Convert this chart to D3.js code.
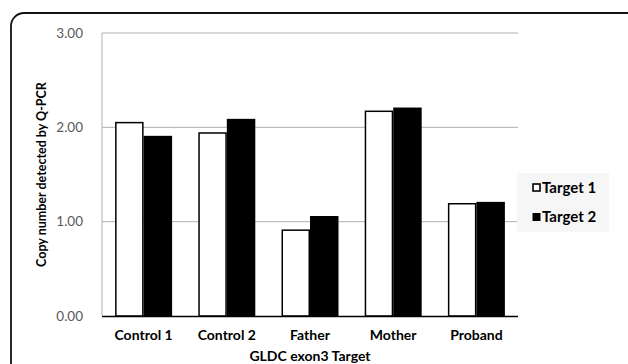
<!DOCTYPE html>
<html><head><meta charset="utf-8">
<script src="https://cdn.jsdelivr.net/npm/d3@7"></script>
<style>body{margin:0;background:#fff}svg{display:block}text{font-family:Lato,"Open Sans",sans-serif}</style>
</head><body>
<script>
const categories = ["Control 1","Control 2","Father","Mother","Proband"];
const seriesNames = ["Target 1","Target 2"];
const target1 = [2.05, 1.94, 0.91, 2.17, 1.19];
const target2 = [1.91, 2.09, 1.06, 2.21, 1.21];
const yTicks = [0, 1, 2, 3];
const xTitle = "GLDC exon3 Target";
const yTitle = "Copy number detected by Q-PCR";

const W = 628, H = 364;
const m = {left:102, right:110, top:33, bottom:48};
const svg = d3.select("body").append("svg").attr("width",W).attr("height",H);

svg.append("rect").attr("x",11).attr("y",13).attr("width",640).attr("height",400)
  .attr("rx",13).attr("fill","none").attr("stroke","#111").attr("stroke-width",1.8);

const x0 = d3.scaleBand().domain(categories).range([m.left, W-m.right]).paddingInner(0.315).paddingOuter(0.1575);
const x1 = d3.scaleBand().domain(seriesNames).range([0, x0.bandwidth()]);
const y = d3.scaleLinear().domain([0,3]).range([H-m.bottom, m.top]);

svg.append("g").selectAll("line").data(yTicks.filter(d=>d>0)).join("line")
  .attr("x1",m.left).attr("x2",W-m.right).attr("y1",d=>y(d)).attr("y2",d=>y(d))
  .attr("stroke","#b0b0b0").attr("stroke-width",1);
svg.append("line").attr("x1",m.left).attr("x2",m.left).attr("y1",y(3)).attr("y2",y(0))
  .attr("stroke","#b0b0b0").attr("stroke-width",1);

svg.append("g").selectAll("text").data(yTicks).join("text")
  .attr("x",83).attr("y",d=>y(d)).attr("dy","0.35em").attr("text-anchor","end")
  .attr("font-size",13.5).attr("fill","#595959").text(d=>d3.format(".2f")(d));

const series = [target1, target2];
const g = svg.append("g");
categories.forEach((c,i)=>{
  seriesNames.forEach((s,j)=>{
    g.append("rect")
      .attr("x", x0(c)+x1(s)+ (j===0?0.75:0))
      .attr("y", y(series[j][i]))
      .attr("width", x1.bandwidth() - (j===0?1.5:0))
      .attr("height", y(0)-y(series[j][i]))
      .attr("fill", j===0?"#fff":"#000")
      .attr("stroke","#000").attr("stroke-width", j===0?1.5:0);
  });
});

svg.append("line").attr("x1",m.left).attr("x2",W-m.right).attr("y1",y(0)+0.5).attr("y2",y(0)+0.5)
  .attr("stroke","#000").attr("stroke-width",1.5);

svg.append("g").selectAll("text").data(categories).join("text")
  .attr("x",d=>x0(d)+x0.bandwidth()/2).attr("y",335).attr("dy","0.35em")
  .attr("text-anchor","middle").attr("font-size",14).attr("font-weight","bold").attr("fill","#000").text(d=>d);

svg.append("text").attr("x",(m.left+W-m.right)/2).attr("y",356).attr("dy","0.35em")
  .attr("text-anchor","middle").attr("font-size",14).attr("font-weight","bold").text(xTitle);

svg.append("text").attr("transform",`translate(42,${(y(0)+y(3))/2}) rotate(-90)`).attr("dy","0.35em")
  .attr("text-anchor","middle").attr("font-size",12.5).attr("font-weight","bold").text(yTitle);

const lg = svg.append("g");
lg.append("rect").attr("x",517).attr("y",173).attr("width",92).attr("height",59).attr("fill","#f6f6f6");
seriesNames.forEach((s,j)=>{
  const cy = 188 + j*29;
  lg.append("rect").attr("x",j===0?533:532.5).attr("y",cy-4).attr("width",j===0?7:8).attr("height",j===0?7:8)
    .attr("fill",j===0?"#fff":"#000").attr("stroke","#000").attr("stroke-width",j===0?1.6:0);
  lg.append("text").attr("x",542).attr("y",cy).attr("dy","0.35em").attr("font-size",15)
    .attr("font-weight","bold").text(s);
});
</script>
</body></html>
